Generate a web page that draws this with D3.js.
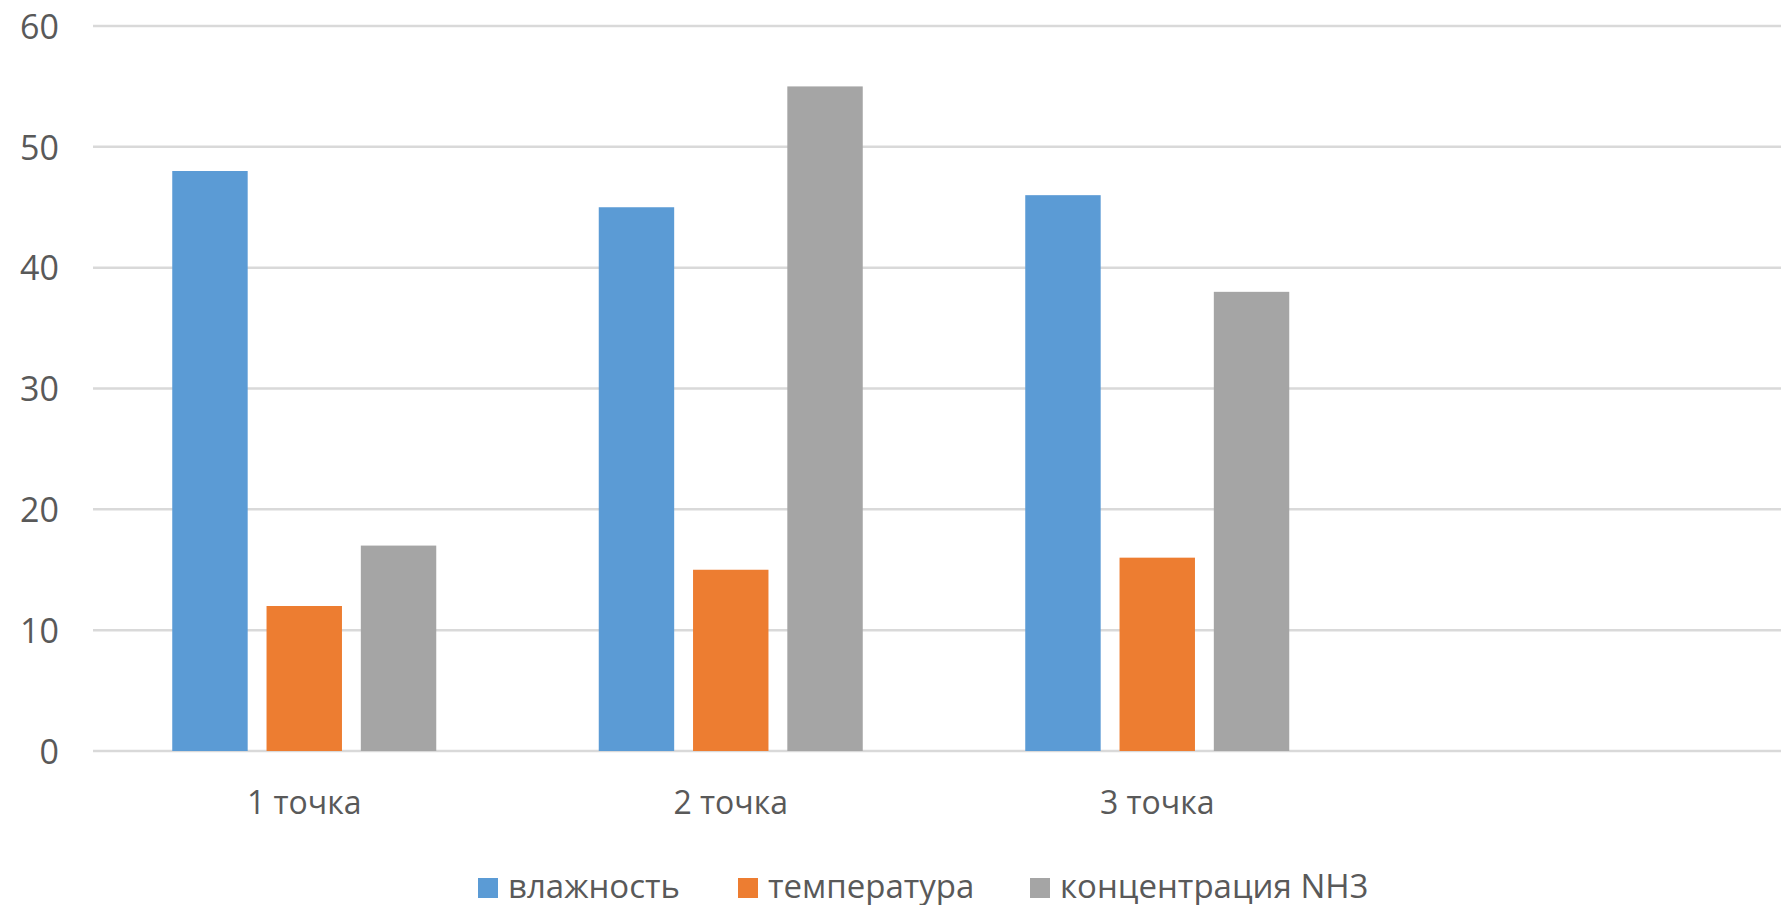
<!DOCTYPE html>
<html>
<head>
<meta charset="utf-8">
<script src="https://cdn.jsdelivr.net/npm/d3@7"></script>
<style>
  html, body { margin: 0; padding: 0; background: #fff; overflow: hidden; }
  svg { display: block; }
</style>
</head>
<body>
<svg id="chart" width="1781" height="905"></svg>
<script>
const categories = ["1 точка", "2 точка", "3 точка", ""];
const seriesNames = ["влажность", "температура", "концентрация NH3"];
const humidity = [48, 45, 46, null];
const temperature = [12, 15, 16, null];
const nh3 = [17, 55, 38, null];
const yTicks = [0, 10, 20, 30, 40, 50, 60];
const colors = ["#5B9BD5", "#ED7D31", "#A5A5A5"];

const seriesValues = [humidity, temperature, nh3];
const svg = d3.select("#chart");
const font = "'Open Sans', 'Segoe UI', sans-serif";
const textColor = "#595959";

const left = 91, bandW = 426.5;
const x = d3.scaleBand().domain(categories).range([left, left + bandW * categories.length]).padding(0);
const y = d3.scaleLinear().domain([0, 60]).range([751, 26]);
const groupW = 264;
const xs = d3.scaleBand().domain(seriesNames)
  .range([(bandW - groupW) / 2, (bandW + groupW) / 2]).paddingInner(0.2).paddingOuter(0);

// gridlines
svg.append("g").selectAll("line").data(yTicks).join("line")
  .attr("x1", 93).attr("x2", 1781)
  .attr("y1", d => y(d)).attr("y2", d => y(d))
  .attr("stroke", "#d9d9d9").attr("stroke-width", 2.5);

// y axis labels
const yAxis = d3.axisLeft(y).tickValues(yTicks).tickSize(0).tickPadding(0);
const gy = svg.append("g").attr("transform", "translate(59,0)").call(yAxis);
gy.select(".domain").remove();
gy.selectAll("text").attr("font-family", font).attr("font-size", 34)
  .attr("fill", textColor).attr("dy", "0.36em");

// bars
const data = [];
categories.forEach((c, i) => {
  seriesNames.forEach((s, j) => {
    const v = seriesValues[j][i];
    if (v != null) data.push({ c, s, v, j });
  });
});
svg.append("g").selectAll("rect").data(data).join("rect")
  .attr("x", d => x(d.c) + xs(d.s))
  .attr("width", xs.bandwidth())
  .attr("y", d => y(d.v))
  .attr("height", d => y(0) - y(d.v))
  .attr("fill", d => colors[d.j]);

// x axis labels
const xAxis = d3.axisBottom(x).tickSize(0).tickPadding(0);
const gx = svg.append("g").attr("transform", "translate(0,814)").call(xAxis);
gx.select(".domain").remove();
gx.selectAll("text").attr("font-family", font).attr("font-size", 32)
  .attr("fill", textColor).attr("dy", 0);

// legend
const legendTextX = [508, 768, 1060];
const lg = svg.append("g");
seriesNames.forEach((name, i) => {
  lg.append("rect").attr("x", legendTextX[i] - 30).attr("y", 878).attr("width", 20).attr("height", 20)
    .attr("fill", colors[i]);
  lg.append("text").attr("x", legendTextX[i]).attr("y", 898).text(name)
    .attr("font-family", font).attr("font-size", 33).attr("fill", textColor);
});
</script>
</body>
</html>
